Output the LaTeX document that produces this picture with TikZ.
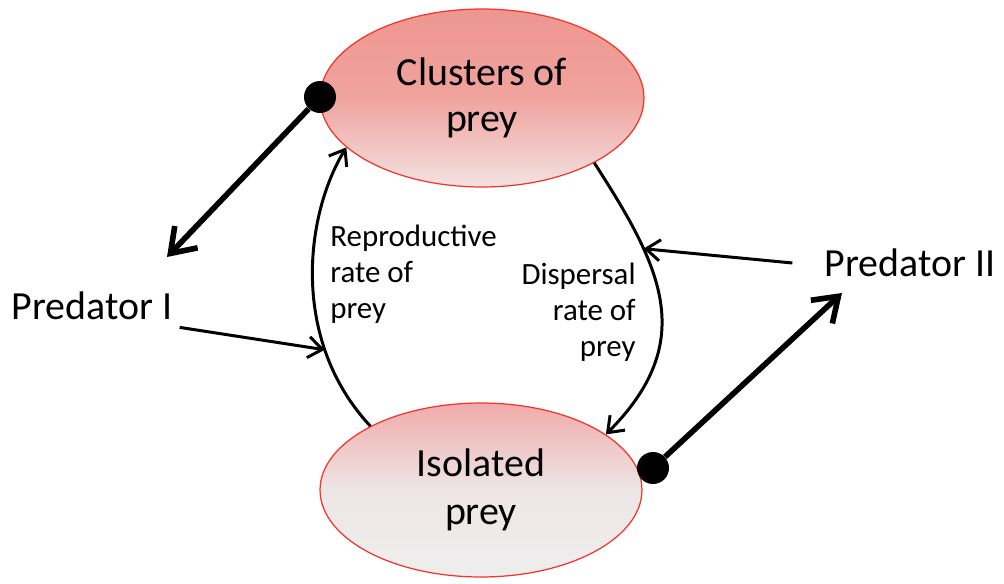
\documentclass[tikz,border=0pt]{standalone}
\usepackage{fontspec}
\setmainfont{Carlito}
\usepackage{tikz}
\usetikzlibrary{positioning,arrows.meta,shapes.geometric}
\definecolor{preyline}{RGB}{244,52,40}
\definecolor{clutop}{RGB}{238,150,144}
\definecolor{clumid}{RGB}{240,163,158}
\definecolor{clulow}{RGB}{242,226,226}
\definecolor{isotop}{RGB}{240,170,170}
\definecolor{isomid}{RGB}{238,230,230}
\definecolor{isolow}{RGB}{238,238,238}

\begin{document}
\begin{tikzpicture}[x=0.02cm,y=-0.02cm,
  every node/.style={font=\fontsize{22.7}{26}\selectfont},
  prey/.style={ellipse,draw=preyline,line width=0.7pt,inner sep=0pt,align=center},
  rate/.style={font=\fontsize{17.6}{20.5}\selectfont,inner sep=0pt},
  dotmark/.style={circle,fill=black,minimum size=0.64cm,inner sep=0pt},
  link/.style={line width=1.7pt,-{Straight Barb[length=8pt,width=12pt]}},
  hit/.style={line width=3.2pt,-{Straight Barb[length=13pt,width=18pt]}}]
  \useasboundingbox (0,0) rectangle (1004,584);
  % the two prey states
  \node[prey,minimum width=6.48cm,minimum height=3.56cm,
    top color=clutop,bottom color=clulow,middle color=clumid] (clu) at (482,98) {Clusters of\\prey};
  \node[prey,minimum width=6.44cm,minimum height=3.48cm,
    top color=isotop,bottom color=isolow,middle color=isomid] (iso) at (481,490) {Isolated\\[1pt]prey};
  % predators
  \node[inner sep=4pt] (p1) at (92,306) {Predator I};
  \node[inner ysep=0pt,inner xsep=0.64cm] (p2) at (910,263) {Predator II};
  \node[rate,align=left,anchor=north west] (rep) at (330,225) {Reproductive\\rate of\\prey};
  \node[rate,align=right,anchor=north east] (dis) at (636,263) {Dispersal\\rate of\\prey};
  % transitions between the states
  \draw[link] (iso.150) .. controls (290,340) and (305,215) .. (clu.200)
    coordinate[pos=0.27] (repin);
  \draw[link] (clu.-30) .. controls (660,265) and (700,340) .. (iso.24)
    coordinate[pos=0.3] (disin);
  \draw[link] (p1.south east) -- (repin);
  \draw[link] (p2.west) -- (disin);
  % each predator feeds on one state
  \foreach \n/\x/\y in {d1/320/97, d2/653/468}
    \node[dotmark] (\n) at (\x,\y) {};
  \coordinate (p1in) at (167,257);
  \coordinate (p2in) at (842,293);
  \draw[hit] (d1) -- (p1in);
  \draw[hit] (d2) -- (p2in);
\end{tikzpicture}
\end{document}
